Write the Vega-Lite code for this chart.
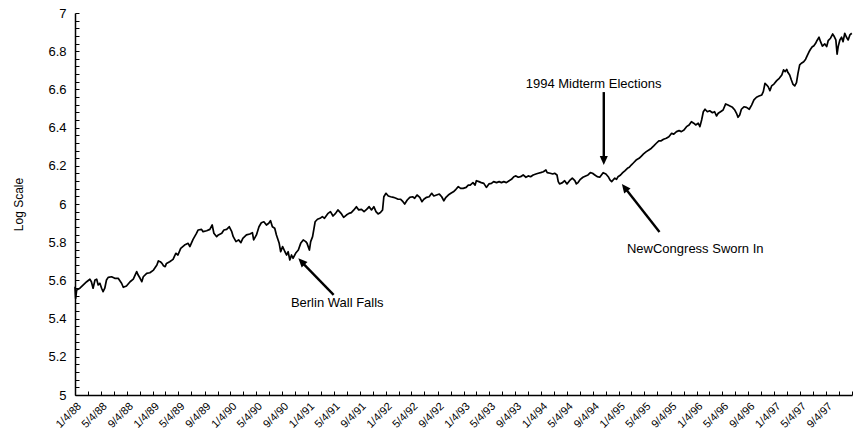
{
  "$schema": "https://vega.github.io/schema/vega-lite/v6.json",
  "width": 777,
  "height": 382,
  "autosize": {"type": "none"},
  "padding": {"left": 75, "top": 13, "right": 1, "bottom": 46},
  "background": "white",
  "config": {"font": "Liberation Sans", "view": {"stroke": null}},
  "datasets": {
    "series": [
      {"date":"1988-01-01","value":5.567},{"date":"1988-01-04","value":5.506},{"date":"1988-01-09","value":5.550},{"date":"1988-01-24","value":5.559},
      {"date":"1988-02-09","value":5.576},{"date":"1988-02-25","value":5.593},{"date":"1988-03-11","value":5.606},{"date":"1988-03-18","value":5.593},
      {"date":"1988-03-26","value":5.559},{"date":"1988-04-04","value":5.602},{"date":"1988-04-12","value":5.606},{"date":"1988-04-19","value":5.576},
      {"date":"1988-04-27","value":5.585},{"date":"1988-05-05","value":5.559},{"date":"1988-05-12","value":5.541},{"date":"1988-05-20","value":5.559},
      {"date":"1988-05-28","value":5.602},{"date":"1988-06-05","value":5.616},{"date":"1988-06-21","value":5.619},{"date":"1988-07-06","value":5.611},
      {"date":"1988-07-22","value":5.611},{"date":"1988-08-07","value":5.585},{"date":"1988-08-15","value":5.564},{"date":"1988-08-30","value":5.571},
      {"date":"1988-09-16","value":5.593},{"date":"1988-10-01","value":5.607},{"date":"1988-10-17","value":5.646},{"date":"1988-10-24","value":5.628},
      {"date":"1988-11-02","value":5.611},{"date":"1988-11-10","value":5.593},{"date":"1988-11-17","value":5.619},{"date":"1988-12-03","value":5.637},
      {"date":"1988-12-18","value":5.640},{"date":"1989-01-04","value":5.654},{"date":"1989-01-20","value":5.681},{"date":"1989-01-27","value":5.702},
      {"date":"1989-02-05","value":5.698},{"date":"1989-02-13","value":5.689},{"date":"1989-02-20","value":5.677},{"date":"1989-02-28","value":5.672},
      {"date":"1989-03-06","value":5.689},{"date":"1989-03-21","value":5.698},{"date":"1989-04-06","value":5.710},{"date":"1989-04-19","value":5.742},
      {"date":"1989-04-29","value":5.733},{"date":"1989-05-12","value":5.768},{"date":"1989-05-30","value":5.785},{"date":"1989-06-16","value":5.794},
      {"date":"1989-06-24","value":5.777},{"date":"1989-07-09","value":5.815},{"date":"1989-07-25","value":5.846},{"date":"1989-08-02","value":5.864},
      {"date":"1989-08-18","value":5.867},{"date":"1989-08-25","value":5.855},{"date":"1989-09-11","value":5.860},{"date":"1989-09-26","value":5.867},
      {"date":"1989-10-07","value":5.890},{"date":"1989-10-15","value":5.847},{"date":"1989-10-28","value":5.829},{"date":"1989-11-05","value":5.838},
      {"date":"1989-11-21","value":5.847},{"date":"1989-12-01","value":5.864},{"date":"1989-12-14","value":5.867},{"date":"1989-12-26","value":5.881},
      {"date":"1990-01-07","value":5.855},{"date":"1990-01-14","value":5.829},{"date":"1990-01-27","value":5.803},{"date":"1990-02-08","value":5.812},
      {"date":"1990-02-19","value":5.798},{"date":"1990-02-28","value":5.820},{"date":"1990-03-17","value":5.838},{"date":"1990-04-02","value":5.843},
      {"date":"1990-04-14","value":5.850},{"date":"1990-04-20","value":5.812},{"date":"1990-05-03","value":5.838},{"date":"1990-05-15","value":5.881},
      {"date":"1990-05-26","value":5.902},{"date":"1990-06-07","value":5.907},{"date":"1990-06-19","value":5.890},{"date":"1990-06-30","value":5.899},
      {"date":"1990-07-08","value":5.913},{"date":"1990-07-17","value":5.881},{"date":"1990-07-28","value":5.873},{"date":"1990-08-05","value":5.838},
      {"date":"1990-08-18","value":5.794},{"date":"1990-08-25","value":5.750},{"date":"1990-09-03","value":5.777},{"date":"1990-09-14","value":5.750},
      {"date":"1990-09-22","value":5.733},{"date":"1990-09-29","value":5.750},{"date":"1990-10-07","value":5.707},{"date":"1990-10-15","value":5.733},
      {"date":"1990-10-22","value":5.716},{"date":"1990-11-05","value":5.745},{"date":"1990-11-16","value":5.759},{"date":"1990-11-27","value":5.794},
      {"date":"1990-12-09","value":5.812},{"date":"1990-12-21","value":5.803},{"date":"1990-12-27","value":5.794},{"date":"1991-01-07","value":5.759},
      {"date":"1991-01-13","value":5.803},{"date":"1991-01-22","value":5.829},{"date":"1991-02-03","value":5.907},{"date":"1991-02-14","value":5.920},
      {"date":"1991-02-26","value":5.925},{"date":"1991-03-09","value":5.934},{"date":"1991-03-19","value":5.925},{"date":"1991-04-05","value":5.951},
      {"date":"1991-04-16","value":5.960},{"date":"1991-04-28","value":5.937},{"date":"1991-05-10","value":5.951},{"date":"1991-05-21","value":5.969},
      {"date":"1991-06-07","value":5.948},{"date":"1991-06-17","value":5.930},{"date":"1991-06-30","value":5.942},{"date":"1991-07-12","value":5.951},
      {"date":"1991-07-23","value":5.955},{"date":"1991-08-04","value":5.969},{"date":"1991-08-16","value":5.986},{"date":"1991-08-27","value":5.969},
      {"date":"1991-09-09","value":5.972},{"date":"1991-09-21","value":5.960},{"date":"1991-10-03","value":5.972},{"date":"1991-10-15","value":5.986},
      {"date":"1991-10-26","value":5.969},{"date":"1991-11-06","value":5.986},{"date":"1991-11-16","value":5.960},{"date":"1991-11-26","value":5.948},
      {"date":"1991-12-07","value":5.955},{"date":"1991-12-17","value":5.969},{"date":"1991-12-23","value":6.038},{"date":"1992-01-02","value":6.056},
      {"date":"1992-01-13","value":6.042},{"date":"1992-01-24","value":6.038},{"date":"1992-02-06","value":6.035},{"date":"1992-02-18","value":6.030},
      {"date":"1992-02-28","value":6.025},{"date":"1992-03-10","value":6.025},{"date":"1992-03-22","value":6.012},{"date":"1992-03-30","value":6.000},
      {"date":"1992-04-11","value":6.021},{"date":"1992-04-23","value":6.035},{"date":"1992-05-06","value":6.038},{"date":"1992-05-16","value":6.030},
      {"date":"1992-05-27","value":6.047},{"date":"1992-06-09","value":6.035},{"date":"1992-06-19","value":6.012},{"date":"1992-06-28","value":6.025},
      {"date":"1992-07-11","value":6.035},{"date":"1992-07-23","value":6.038},{"date":"1992-08-04","value":6.056},{"date":"1992-08-14","value":6.042},
      {"date":"1992-08-27","value":6.047},{"date":"1992-09-09","value":6.052},{"date":"1992-09-20","value":6.038},{"date":"1992-09-30","value":6.017},
      {"date":"1992-10-10","value":6.035},{"date":"1992-10-21","value":6.047},{"date":"1992-11-02","value":6.056},{"date":"1992-11-14","value":6.064},
      {"date":"1992-11-26","value":6.077},{"date":"1992-12-07","value":6.091},{"date":"1992-12-18","value":6.082},{"date":"1992-12-30","value":6.082},
      {"date":"1993-01-13","value":6.087},{"date":"1993-01-23","value":6.099},{"date":"1993-02-01","value":6.099},{"date":"1993-02-14","value":6.112},
      {"date":"1993-02-24","value":6.099},{"date":"1993-03-02","value":6.122},{"date":"1993-03-14","value":6.117},{"date":"1993-03-25","value":6.112},
      {"date":"1993-04-06","value":6.108},{"date":"1993-04-18","value":6.087},{"date":"1993-04-30","value":6.105},{"date":"1993-05-12","value":6.108},
      {"date":"1993-05-22","value":6.117},{"date":"1993-06-05","value":6.112},{"date":"1993-06-17","value":6.117},{"date":"1993-06-28","value":6.112},
      {"date":"1993-07-09","value":6.117},{"date":"1993-07-21","value":6.112},{"date":"1993-08-03","value":6.122},{"date":"1993-08-14","value":6.129},
      {"date":"1993-08-25","value":6.143},{"date":"1993-09-04","value":6.147},{"date":"1993-09-15","value":6.140},{"date":"1993-09-26","value":6.143},
      {"date":"1993-10-08","value":6.152},{"date":"1993-10-21","value":6.140},{"date":"1993-11-01","value":6.147},{"date":"1993-11-12","value":6.143},
      {"date":"1993-11-24","value":6.152},{"date":"1993-12-07","value":6.157},{"date":"1993-12-18","value":6.161},{"date":"1993-12-29","value":6.164},
      {"date":"1994-01-11","value":6.169},{"date":"1994-01-23","value":6.178},{"date":"1994-01-29","value":6.164},{"date":"1994-02-12","value":6.161},
      {"date":"1994-02-24","value":6.157},{"date":"1994-03-05","value":6.161},{"date":"1994-03-16","value":6.152},{"date":"1994-03-22","value":6.117},
      {"date":"1994-03-28","value":6.105},{"date":"1994-04-11","value":6.112},{"date":"1994-04-21","value":6.122},{"date":"1994-05-02","value":6.105},
      {"date":"1994-05-14","value":6.122},{"date":"1994-05-27","value":6.135},{"date":"1994-06-08","value":6.122},{"date":"1994-06-15","value":6.105},
      {"date":"1994-06-23","value":6.112},{"date":"1994-07-04","value":6.129},{"date":"1994-07-16","value":6.140},{"date":"1994-07-29","value":6.147},
      {"date":"1994-08-09","value":6.152},{"date":"1994-08-20","value":6.164},{"date":"1994-08-30","value":6.161},{"date":"1994-09-10","value":6.152},
      {"date":"1994-09-21","value":6.143},{"date":"1994-10-03","value":6.140},{"date":"1994-10-11","value":6.152},{"date":"1994-10-19","value":6.164},
      {"date":"1994-11-01","value":6.157},{"date":"1994-11-12","value":6.143},{"date":"1994-11-20","value":6.126},{"date":"1994-11-28","value":6.117},
      {"date":"1994-12-05","value":6.126},{"date":"1994-12-13","value":6.135},{"date":"1994-12-21","value":6.129},{"date":"1994-12-28","value":6.143},
      {"date":"1995-01-09","value":6.152},{"date":"1995-01-19","value":6.164},{"date":"1995-01-29","value":6.174},{"date":"1995-02-10","value":6.187},
      {"date":"1995-02-19","value":6.192},{"date":"1995-02-28","value":6.204},{"date":"1995-03-11","value":6.216},{"date":"1995-03-23","value":6.230},
      {"date":"1995-04-06","value":6.239},{"date":"1995-04-17","value":6.251},{"date":"1995-04-27","value":6.262},{"date":"1995-05-10","value":6.274},
      {"date":"1995-05-22","value":6.283},{"date":"1995-06-03","value":6.292},{"date":"1995-06-14","value":6.304},{"date":"1995-06-26","value":6.318},
      {"date":"1995-07-08","value":6.331},{"date":"1995-07-19","value":6.331},{"date":"1995-07-30","value":6.339},{"date":"1995-08-12","value":6.344},
      {"date":"1995-08-24","value":6.352},{"date":"1995-09-06","value":6.370},{"date":"1995-09-16","value":6.366},{"date":"1995-09-29","value":6.379},
      {"date":"1995-10-11","value":6.384},{"date":"1995-10-22","value":6.379},{"date":"1995-11-03","value":6.387},{"date":"1995-11-15","value":6.405},
      {"date":"1995-11-27","value":6.414},{"date":"1995-12-08","value":6.431},{"date":"1995-12-19","value":6.423},{"date":"1995-12-28","value":6.414},
      {"date":"1996-01-09","value":6.423},{"date":"1996-01-17","value":6.405},{"date":"1996-01-25","value":6.440},{"date":"1996-02-02","value":6.483},
      {"date":"1996-02-10","value":6.496},{"date":"1996-02-21","value":6.483},{"date":"1996-03-03","value":6.488},{"date":"1996-03-16","value":6.478},
      {"date":"1996-03-26","value":6.483},{"date":"1996-04-04","value":6.461},{"date":"1996-04-12","value":6.475},{"date":"1996-04-23","value":6.483},
      {"date":"1996-05-05","value":6.492},{"date":"1996-05-17","value":6.524},{"date":"1996-05-28","value":6.518},{"date":"1996-06-06","value":6.513},
      {"date":"1996-06-18","value":6.506},{"date":"1996-06-29","value":6.492},{"date":"1996-07-07","value":6.475},{"date":"1996-07-14","value":6.454},
      {"date":"1996-07-22","value":6.466},{"date":"1996-07-30","value":6.496},{"date":"1996-08-11","value":6.509},{"date":"1996-08-23","value":6.506},
      {"date":"1996-09-05","value":6.496},{"date":"1996-09-16","value":6.518},{"date":"1996-09-27","value":6.545},{"date":"1996-10-09","value":6.559},
      {"date":"1996-10-21","value":6.565},{"date":"1996-11-03","value":6.571},{"date":"1996-11-10","value":6.588},{"date":"1996-11-18","value":6.632},
      {"date":"1996-11-26","value":6.623},{"date":"1996-12-03","value":6.614},{"date":"1996-12-11","value":6.593},{"date":"1996-12-19","value":6.618},
      {"date":"1996-12-30","value":6.628},{"date":"1997-01-12","value":6.646},{"date":"1997-01-24","value":6.658},{"date":"1997-02-05","value":6.675},
      {"date":"1997-02-13","value":6.702},{"date":"1997-02-21","value":6.693},{"date":"1997-02-28","value":6.705},{"date":"1997-03-06","value":6.688},
      {"date":"1997-03-14","value":6.675},{"date":"1997-03-22","value":6.649},{"date":"1997-03-29","value":6.628},{"date":"1997-04-07","value":6.618},
      {"date":"1997-04-15","value":6.635},{"date":"1997-04-22","value":6.684},{"date":"1997-04-30","value":6.728},{"date":"1997-05-08","value":6.737},
      {"date":"1997-05-19","value":6.745},{"date":"1997-05-28","value":6.758},{"date":"1997-06-04","value":6.775},{"date":"1997-06-13","value":6.797},
      {"date":"1997-06-20","value":6.810},{"date":"1997-06-29","value":6.824},{"date":"1997-07-05","value":6.827},{"date":"1997-07-14","value":6.841},
      {"date":"1997-07-20","value":6.855},{"date":"1997-07-30","value":6.873},{"date":"1997-08-06","value":6.850},{"date":"1997-08-15","value":6.827},
      {"date":"1997-08-26","value":6.838},{"date":"1997-09-04","value":6.824},{"date":"1997-09-11","value":6.855},{"date":"1997-09-22","value":6.868},
      {"date":"1997-10-02","value":6.890},{"date":"1997-10-08","value":6.880},{"date":"1997-10-17","value":6.859},{"date":"1997-10-23","value":6.785},
      {"date":"1997-10-28","value":6.824},{"date":"1997-11-05","value":6.859},{"date":"1997-11-13","value":6.873},{"date":"1997-11-20","value":6.850},
      {"date":"1997-11-28","value":6.894},{"date":"1997-12-06","value":6.873},{"date":"1997-12-14","value":6.859},{"date":"1997-12-22","value":6.885},
      {"date":"1997-12-31","value":6.894}
    ],
    "labels": [
      {"label":"1994 Midterm Elections","date":"1993-10-20","value":6.628},
      {"label":"Berlin Wall Falls","date":"1990-10-12","value":5.482},
      {"label":"NewCongress Sworn In","date":"1995-02-08","value":5.764}
    ],
    "arrows": [
      {"label":"1994 Midterm Elections","date":"1994-10-22","value":6.586,"date2":"1994-10-22","value2":6.230},
      {"label":"Berlin Wall Falls","date":"1991-05-01","value":5.524,"date2":"1990-11-30","value2":5.698},
      {"label":"NewCongress Sworn In","date":"1995-07-11","value":5.853,"date2":"1995-01-30","value2":6.084}
    ],
    "heads": [
      {"label":"1994 Midterm Elections","date":"1994-10-22","value":6.204},
      {"label":"Berlin Wall Falls","date":"1990-11-16","value":5.716},
      {"label":"NewCongress Sworn In","date":"1995-01-15","value":6.105}
    ]
  },
  "encoding": {
    "x": {
      "field": "date", "type": "temporal",
      "scale": {"type": "utc", "nice": false, "domain": [{"year":1988,"month":1,"date":1,"utc":true},{"year":1998,"month":1,"date":1,"utc":true}]},
      "axis": {
        "title": null, "grid": false,
        "tickCount": {"interval": "month", "step": 2},
        "labelExpr": "(utcmonth(datum.value) % 4 == 0 && utcyear(datum.value) < 1998) ? ((utcmonth(datum.value) + 1) + '/4/' + utcFormat(datum.value, '%y')) : ''",
        "labelAngle": -45, "labelAlign": "right", "labelBaseline": "top",
        "labelFontSize": 11, "labelColor": "black", "labelOverlap": false, "labelFlush": false,
        "labelPadding": 9,
        "domainColor": "black", "domainWidth": 1.5,
        "tickColor": "black", "tickSize": -4, "tickWidth": 1
      }
    },
    "y": {
      "field": "value", "type": "quantitative",
      "scale": {"domain": [5, 7], "nice": false, "zero": false},
      "axis": {
        "title": "Log Scale", "grid": false,
        "values": [5,5.04,5.08,5.12,5.16,5.2,5.24,5.28,5.32,5.36,5.4,5.44,5.48,5.52,5.56,5.6,5.64,5.68,5.72,5.76,5.8,5.84,5.88,5.92,5.96,6,6.04,6.08,6.12,6.16,6.2,6.24,6.28,6.32,6.36,6.4,6.44,6.48,6.52,6.56,6.6,6.64,6.68,6.72,6.76,6.8,6.84,6.88,6.92,6.96,7],
        "labelExpr": "abs(datum.value * 5 - round(datum.value * 5)) < 0.001 ? format(datum.value, '~g') : ''",
        "labelFontSize": 13, "labelColor": "black", "labelOverlap": false, "labelFlush": false,
        "labelPadding": 13,
        "domainColor": "black", "domainWidth": 1.5,
        "tickColor": "black", "tickSize": -4, "tickWidth": 1,
        "titleFontSize": 12, "titleFontWeight": "normal", "titleColor": "black",
        "titleX": -57, "titleY": 191, "titleAngle": -90, "titleAlign": "center", "titleBaseline": "middle"
      }
    }
  },
  "layer": [
    {"data": {"name": "series"}, "mark": {"type": "line", "color": "black", "strokeWidth": 1.7, "strokeJoin": "round"}},
    {"data": {"name": "arrows"}, "mark": {"type": "rule", "color": "black", "strokeWidth": 2.4},
     "encoding": {"x2": {"field": "date2"}, "y2": {"field": "value2"}}},
    {"data": {"name": "heads"}, "transform": [{"filter": "datum.label == '1994 Midterm Elections'"}],
     "mark": {"type": "point", "shape": "M0,0L-0.45,1L0.45,1Z", "size": 324, "filled": true, "color": "black", "opacity": 1, "angle": 180}},
    {"data": {"name": "heads"}, "transform": [{"filter": "datum.label == 'Berlin Wall Falls'"}],
     "mark": {"type": "point", "shape": "M0,0L-0.45,1L0.45,1Z", "size": 324, "filled": true, "color": "black", "opacity": 1, "angle": 316}},
    {"data": {"name": "heads"}, "transform": [{"filter": "datum.label == 'NewCongress Sworn In'"}],
     "mark": {"type": "point", "shape": "M0,0L-0.45,1L0.45,1Z", "size": 324, "filled": true, "color": "black", "opacity": 1, "angle": 322}},
    {"data": {"name": "labels"}, "mark": {"type": "text", "align": "left", "baseline": "middle", "fontSize": 13, "color": "black"},
     "encoding": {"text": {"field": "label"}}}
  ]
}
